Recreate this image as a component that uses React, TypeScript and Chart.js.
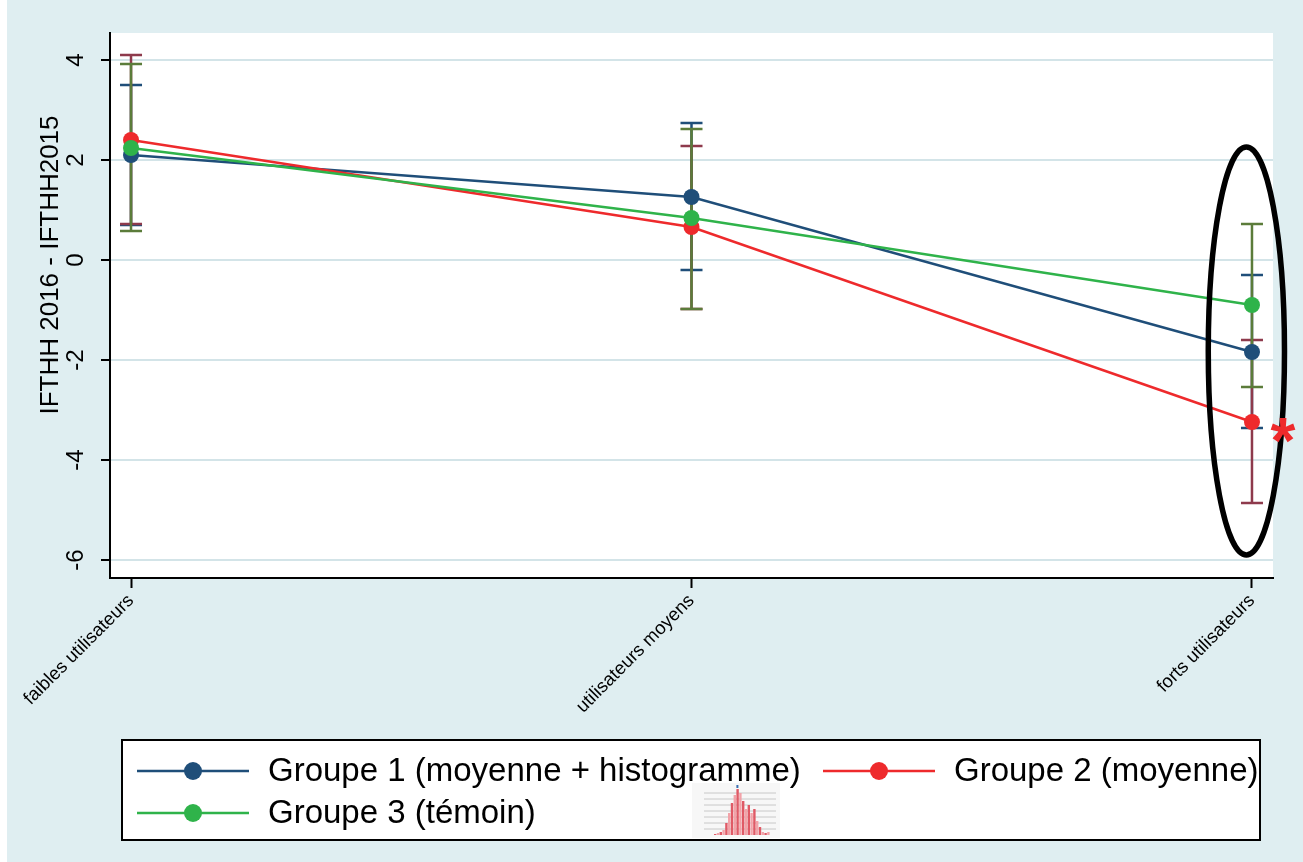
import React, { useEffect, useRef } from 'react';
import { Chart, registerables } from 'chart.js';

Chart.register(...registerables);

// ---------- data ----------
const categories = ['faibles utilisateurs', 'utilisateurs moyens', 'forts utilisateurs'];
const yTickValues = [-6, -4, -2, 0, 2, 4];
const seriesLabels = ['Groupe 1 (moyenne + histogramme)', 'Groupe 2 (moyenne)', 'Groupe 3 (témoin)'];
const yTitle = 'IFTHH 2016 - IFTHH2015';

const g1Mean = [2.1, 1.26, -1.84];
const g1Low = [0.7, -0.2, -3.36];
const g1High = [3.5, 2.74, -0.3];

const g2Mean = [2.4, 0.66, -3.24];
const g2Low = [0.72, -0.98, -4.86];
const g2High = [4.1, 2.28, -1.6];

const g3Mean = [2.24, 0.84, -0.9];
const g3Low = [0.58, -0.98, -2.54];
const g3High = [3.92, 2.62, 0.72];

// small histogram thumbnail shown inside the legend (relative bar heights)
const thumbBars = [1, 2, 3, 5, 12, 22, 32, 40, 46, 42, 34, 26, 30, 22, 26, 14, 8, 3, 2, 3];

// ---------- styles ----------
const FONT = 'Arial, "Liberation Sans", sans-serif';
const BG = '#dfeef1';
const GRID = '#d3e4e8';
const C_BLUE = '#1f4e79';
const C_RED = '#ee2a2c';
const C_GREEN = '#2fb34a';
const CI_BLUE = '#1f4e79';
const CI_RED = '#8e3a4c';
const CI_GREEN = '#5b7c3a';

// annotation (ellipse around the last category, star for significance)
const ellipseCenterX = 1.99;
const ellipseHalfWidthX = 0.068;
const ellipseTopY = 2.26;
const ellipseBottomY = -5.9;
const starSeries = 1;
const starCategory = 2;
// value at which the y-axis title is centred
const yTitleCenterValue = -0.1;

const errorSets = [
  { low: g1Low, high: g1High, color: CI_BLUE },
  { low: g2Low, high: g2High, color: CI_RED },
  { low: g3Low, high: g3High, color: CI_GREEN },
];

const toPoints = (arr: number[]) => arr.map((v, i) => ({ x: i, y: v }));

const decorPlugin = {
  id: 'decor',
  beforeDraw(chart: any) {
    const { ctx, width, height, chartArea: ca } = chart;
    ctx.save();
    ctx.fillStyle = '#ffffff';
    ctx.fillRect(0, 0, width, height);
    ctx.fillStyle = BG;
    ctx.fillRect(7, 0, width - 7, height);
    ctx.fillStyle = '#ffffff';
    ctx.fillRect(ca.left, ca.top, ca.right - ca.left, ca.bottom - ca.top);
    ctx.restore();
  },
  beforeDatasetsDraw(chart: any) {
    const { ctx } = chart;
    const xs = chart.scales.x;
    const ys = chart.scales.y;
    ctx.save();
    ctx.lineWidth = 2.5;
    errorSets.forEach((s) => {
      ctx.strokeStyle = s.color;
      categories.forEach((_, i) => {
        const x = xs.getPixelForValue(i);
        const y1 = ys.getPixelForValue(s.high[i]);
        const y2 = ys.getPixelForValue(s.low[i]);
        ctx.beginPath();
        ctx.moveTo(x, y1);
        ctx.lineTo(x, y2);
        ctx.moveTo(x - 11, y1);
        ctx.lineTo(x + 11, y1);
        ctx.moveTo(x - 11, y2);
        ctx.lineTo(x + 11, y2);
        ctx.stroke();
      });
    });
    ctx.restore();
  },
  afterDraw(chart: any) {
    const { ctx } = chart;
    const xs = chart.scales.x;
    const ys = chart.scales.y;
    ctx.save();

    // rotated y tick labels
    ctx.fillStyle = '#000';
    ctx.font = `24px ${FONT}`;
    ctx.textAlign = 'center';
    ctx.textBaseline = 'alphabetic';
    ys.ticks.forEach((t: any) => {
      const y = ys.getPixelForValue(t.value);
      ctx.save();
      ctx.translate(83, y);
      ctx.rotate(-Math.PI / 2);
      ctx.fillText(String(t.value), 0, 0);
      ctx.restore();
    });

    // y title
    ctx.save();
    ctx.font = `26px ${FONT}`;
    ctx.translate(58, ys.getPixelForValue(yTitleCenterValue));
    ctx.rotate(-Math.PI / 2);
    ctx.fillText(yTitle, 0, 0);
    ctx.restore();

    // ellipse annotation
    const cx = xs.getPixelForValue(ellipseCenterX);
    const rx = xs.getPixelForValue(ellipseCenterX + ellipseHalfWidthX) - cx;
    const yTop = ys.getPixelForValue(ellipseTopY);
    const yBot = ys.getPixelForValue(ellipseBottomY);
    ctx.beginPath();
    ctx.ellipse(cx, (yTop + yBot) / 2, rx, (yBot - yTop) / 2, 0, 0, Math.PI * 2);
    ctx.lineWidth = 5.5;
    ctx.strokeStyle = '#000';
    ctx.stroke();

    // significance star
    const meta = chart.getDatasetMeta(starSeries);
    const pt = meta.data[starCategory];
    ctx.fillStyle = C_RED;
    ctx.font = `bold 64px ${FONT}`;
    ctx.textAlign = 'center';
    ctx.textBaseline = 'alphabetic';
    ctx.fillText('*', pt.x + 31, pt.y + 41);

    // legend box
    const lx = 122, ly = 740, lw = 1138, lh = 100;
    ctx.fillStyle = '#ffffff';
    ctx.fillRect(lx, ly, lw, lh);
    ctx.lineWidth = 2;
    ctx.strokeStyle = '#000';
    ctx.strokeRect(lx, ly, lw, lh);

    const items = [
      { ds: 0, x: 137, y: 771 },
      { ds: 1, x: 823, y: 771 },
      { ds: 2, x: 137, y: 813 },
    ];
    items.forEach((it) => {
      const d = chart.data.datasets[it.ds];
      ctx.strokeStyle = d.borderColor;
      ctx.lineWidth = 2.5;
      ctx.beginPath();
      ctx.moveTo(it.x, it.y);
      ctx.lineTo(it.x + 112, it.y);
      ctx.stroke();
      ctx.fillStyle = d.backgroundColor;
      ctx.beginPath();
      ctx.arc(it.x + 56, it.y, 9, 0, Math.PI * 2);
      ctx.fill();
      ctx.fillStyle = '#000';
      ctx.font = `33px ${FONT}`;
      ctx.textAlign = 'left';
      ctx.textBaseline = 'middle';
      ctx.fillText(d.label, it.x + 131, it.y + 1);
    });

    // tiny histogram thumbnail
    const tx = 692, ty = 783, tw = 88, th = 55;
    ctx.fillStyle = '#f7f7f7';
    ctx.fillRect(tx, ty, tw, th);
    ctx.strokeStyle = '#c8c8c8';
    ctx.lineWidth = 1;
    for (let k = 0; k < 7; k++) {
      const yy = ty + 10 + k * 6;
      ctx.beginPath();
      ctx.moveTo(tx + 12, yy);
      ctx.lineTo(tx + tw - 4, yy);
      ctx.stroke();
    }
    const maxB = Math.max(...thumbBars);
    const bw = 2.8;
    thumbBars.forEach((b, k) => {
      const h = (b / maxB) * 46;
      ctx.fillStyle = k % 2 === 0 ? '#e05a66' : '#f2a3a9';
      ctx.fillRect(tx + 22 + k * bw, ty + th - 3 - h, bw - 0.4, h);
    });
    ctx.fillStyle = '#3a6fb0';
    ctx.fillRect(tx + 22 + 8 * bw, ty + 2, 2, 3);

    ctx.restore();
  },
};

export default function App() {
  const canvasRef = useRef<HTMLCanvasElement | null>(null);

  useEffect(() => {
    if (!canvasRef.current) return;
    Chart.defaults.font.family = FONT;
    const mkDs = (label: string, data: number[], color: string, order: number) => ({
      label,
      data: toPoints(data),
      borderColor: color,
      backgroundColor: color,
      borderWidth: 2.5,
      pointRadius: 8,
      pointBorderWidth: 0,
      pointBackgroundColor: color,
      tension: 0,
      order,
    });
    const chart = new Chart(canvasRef.current, {
      type: 'line',
      data: {
        datasets: [
          mkDs(seriesLabels[0], g1Mean, C_BLUE, 3),
          mkDs(seriesLabels[1], g2Mean, C_RED, 2),
          mkDs(seriesLabels[2], g3Mean, C_GREEN, 1),
        ],
      },
      options: {
        responsive: false,
        animation: false,
        layout: { padding: { left: 0, top: 33, right: 30, bottom: 134 } },
        plugins: {
          legend: { display: false },
          tooltip: { enabled: false },
        },
        scales: {
          x: {
            type: 'linear',
            min: -0.0375,
            max: 2.0375,
            afterBuildTicks: (s: any) => {
              s.ticks = categories.map((_, i) => ({ value: i }));
            },
            afterFit: (s: any) => {
              s.height = 150;
            },
            ticks: {
              autoSkip: false,
              minRotation: 45,
              maxRotation: 45,
              padding: 2,
              color: '#000',
              font: { size: 18.5, family: FONT },
              callback: (_v: any, i: number) => categories[i],
            },
            grid: {
              drawOnChartArea: false,
              drawTicks: true,
              tickLength: 10,
              tickColor: '#000',
              tickWidth: 2,
            },
            border: { display: true, color: '#000', width: 2 },
          },
          y: {
            type: 'linear',
            min: -6.36,
            max: 4.54,
            afterBuildTicks: (s: any) => {
              s.ticks = yTickValues.map((v) => ({ value: v }));
            },
            afterFit: (s: any) => {
              s.width = 110;
            },
            ticks: { display: false },
            grid: {
              color: GRID,
              lineWidth: 2,
              drawTicks: true,
              tickLength: 9,
              tickColor: '#000',
              tickWidth: 2,
            },
            border: { display: true, color: '#000', width: 2 },
            title: { display: false, text: yTitle },
          },
        },
      },
      plugins: [decorPlugin],
    } as any);
    return () => chart.destroy();
  }, []);

  return (
    <div style={{ position: 'fixed', left: 0, top: 0, width: 1303, height: 862 }}>
      <canvas ref={canvasRef} width={1303} height={862} style={{ display: 'block' }} />
    </div>
  );
}
